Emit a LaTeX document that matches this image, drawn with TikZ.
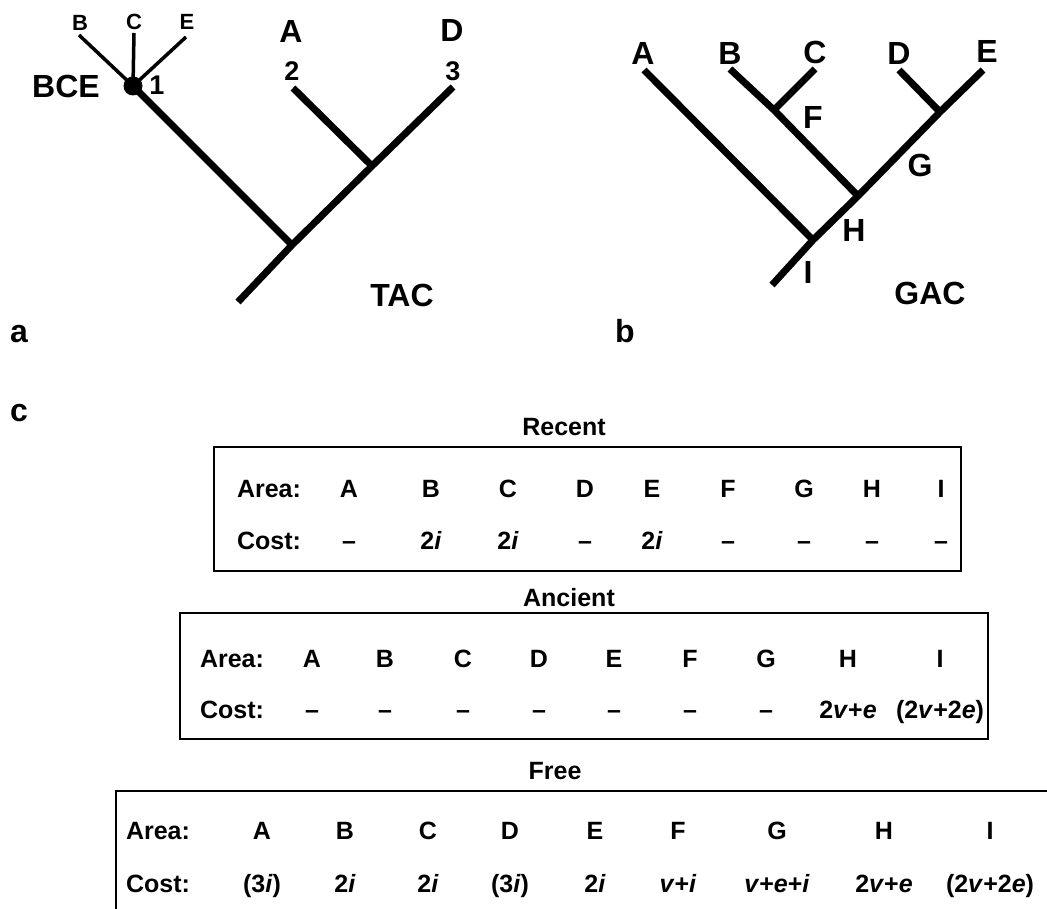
\documentclass[tikz,border=0pt]{standalone}
\usepackage{fontspec}
\setmainfont{Liberation Sans}
\begin{document}
\begin{tikzpicture}[x=1pt,y=-1pt,
  big/.style={font=\bfseries\fontsize{32}{32}\selectfont, inner sep=0pt, text height=23pt, text depth=0pt},
  mid/.style={font=\bfseries\fontsize{27}{27}\selectfont, inner sep=0pt, text height=19.5pt, text depth=0pt},
  small/.style={font=\bfseries\fontsize{22}{22}\selectfont, inner sep=0pt, text height=16pt, text depth=0pt},
  tab/.style={font=\bfseries\fontsize{25}{25}\selectfont, inner sep=0pt, text height=18pt, text depth=0pt},
  panel/.style={font=\bfseries\fontsize{32}{32}\selectfont, inner sep=0pt, anchor=base west},
  branch/.style={line width=7pt, line cap=butt},
  twig/.style={line width=3.5pt, line cap=butt},
  frame/.style={line width=2.5pt}]
\useasboundingbox (0,0) rectangle (1047,909);

% ---------- tree a (TAC) ----------
\coordinate (aBt) at (79,35);
\coordinate (aCt) at (134,33);
\coordinate (aEt) at (186,37);
\coordinate (aN1) at (133,86);
\coordinate (aAt) at (293,88);
\coordinate (aDt) at (453,87);
\coordinate (aN2) at (372,166);
\coordinate (aN3) at (292,245);
\coordinate (aRoot) at (238,302);
\draw[twig] (aBt) -- (aN1);
\draw[twig] (aCt) -- (aN1);
\draw[twig] (aEt) -- (aN1);
\draw[branch] (aN1) -- (aN3);
\draw[branch] (aAt) -- (aN2);
\draw[branch] (aDt) -- (aN2) -- (aN3) -- (aRoot);
\fill (aN1) circle (9.5pt);
\node[small] (laB) at (80,23) {B};
\node[small] (laC) at (134,22) {C};
\node[small] (laE) at (187,22) {E};
\node[big] (laBCE) at (66,86) {BCE};
\node[mid] (la1) at (157,85) {1};
\node[big] (laA) at (291,31) {A};
\node[big] (laD) at (452,30) {D};
\node[mid] (la2) at (292,71) {2};
\node[mid] (la3) at (453,71) {3};
\node[big] (laTAC) at (402,295) {TAC};
\node[panel] (pa) at (10,342) {a};

% ---------- tree b (GAC) ----------
\coordinate (bAt) at (644,70);
\coordinate (bBt) at (730,69);
\coordinate (bCt) at (815,69);
\coordinate (bDt) at (899,70);
\coordinate (bEt) at (983,70);
\coordinate (bF) at (774,110);
\coordinate (bG) at (940,112);
\coordinate (bH) at (858,196);
\coordinate (bI) at (813,240);
\coordinate (bRoot) at (772,285);
\draw[branch] (bAt) -- (bI);
\draw[branch] (bBt) -- (bF) -- (bH);
\draw[branch] (bCt) -- (bF);
\draw[branch] (bDt) -- (bG);
\draw[branch] (bEt) -- (bG) -- (bH) -- (bI) -- (bRoot);
\node[big] (lbA) at (643,53) {A};
\node[big] (lbB) at (730,53) {B};
\node[big] (lbC) at (815,52) {C};
\node[big] (lbD) at (899,53) {D};
\node[big] (lbE) at (987,51) {E};
\node[big] (lbF) at (813,117) {F};
\node[big] (lbG) at (920,165) {G};
\node[big] (lbH) at (854,230) {H};
\node[big] (lbI) at (808,272) {I};
\node[big] (lbGAC) at (930,293) {GAC};
\node[panel] (pb) at (615,342) {b};

% ---------- panel c ----------
\node[panel] (pc) at (10,421) {c};

% Recent
\node[tab] (tRecent) at (564,426) {Recent};
\draw[frame] (214,447) rectangle (961,571);
\node[tab] (rArea) at (269,488) {Area:};
\node[tab] (rCost) at (269,540) {Cost:};
\foreach \x/\a/\c [count=\k] in {349/A/--, 431/B/{2\textit{i}}, 508/C/{2\textit{i}}, 585/D/--, 652/E/{2\textit{i}}, 728/F/--, 804/G/--, 872/H/--, 941/I/--}{
  \node[tab] (ra\k) at (\x,488) {\a};
  \node[tab] (rc\k) at (\x,540) {\c};
}

% Ancient
\node[tab] (tAncient) at (569,597) {Ancient};
\draw[frame] (180,613) rectangle (988,739);
\node[tab] (aArea) at (232,658) {Area:};
\node[tab] (aCost) at (232,709) {Cost:};
\foreach \x/\a/\c [count=\k] in {312/A/--, 385/B/--, 463/C/--, 539/D/--, 614/E/--, 690/F/--, 766/G/--, 848/H/{2\textit{v}+\textit{e}}, 940/I/{(2\textit{v}+2\textit{e})}}{
  \node[tab] (aa\k) at (\x,658) {\a};
  \node[tab] (ac\k) at (\x,709) {\c};
}

% Free
\node[tab] (tFree) at (555,770) {Free};
\draw[line width=2pt] (1047,791) -- (116,791) -- (116,909);
\node[tab] (fArea) at (158,830) {Area:};
\node[tab] (fCost) at (158,883) {Cost:};
\foreach \x/\a/\c [count=\k] in {262/A/{(3\textit{i})}, 345/B/{2\textit{i}}, 428/C/{2\textit{i}}, 510/D/{(3\textit{i})}, 595/E/{2\textit{i}}, 678/F/{\textit{v}+\textit{i}}, 777/G/{\textit{v}+\textit{e}+\textit{i}}, 884/H/{2\textit{v}+\textit{e}}, 990/I/{(2\textit{v}+2\textit{e})}}{
  \node[tab] (fa\k) at (\x,830) {\a};
  \node[tab] (fc\k) at (\x,883) {\c};
}
\end{tikzpicture}
\end{document}
